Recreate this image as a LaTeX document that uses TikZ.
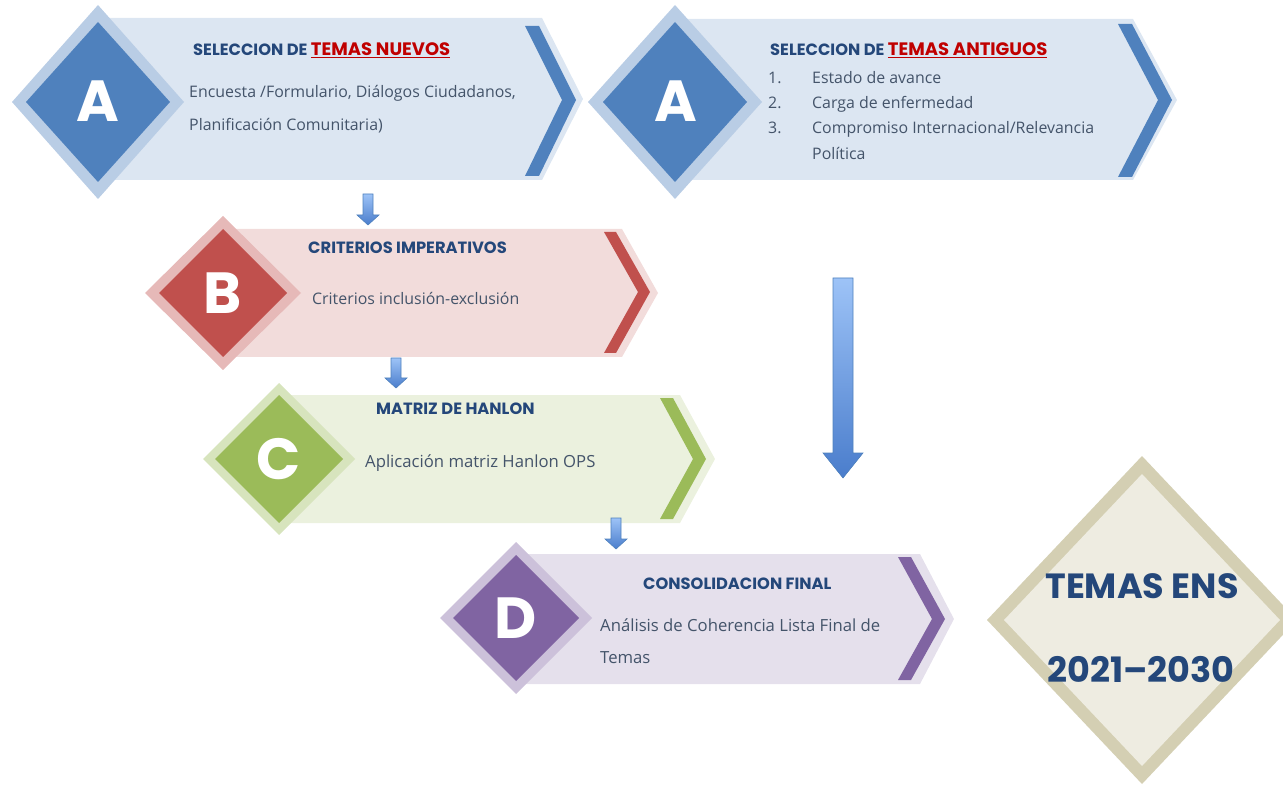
\documentclass[tikz,border=0pt]{standalone}
\usepackage{fontspec}
\setmainfont{Open Sans}
\newfontfamily\popfont{Poppins}
\usetikzlibrary{positioning}

\definecolor{blueD}{HTML}{4F81BD}
\definecolor{blueM}{HTML}{B9CDE5}
\definecolor{blueL}{HTML}{DCE6F2}
\definecolor{redD}{HTML}{C0504D}
\definecolor{redM}{HTML}{E6B9B8}
\definecolor{redL}{HTML}{F2DCDB}
\definecolor{greenD}{HTML}{9BBB59}
\definecolor{greenM}{HTML}{D7E4BD}
\definecolor{greenL}{HTML}{EBF1DE}
\definecolor{purpD}{HTML}{8064A2}
\definecolor{purpM}{HTML}{CCC1DA}
\definecolor{purpL}{HTML}{E5E0EC}
\definecolor{sandM}{HTML}{D4CFB3}
\definecolor{sandL}{HTML}{EEECE1}
\definecolor{titleblue}{HTML}{24477A}
\definecolor{bodyblue}{HTML}{44546A}
\definecolor{titlered}{HTML}{C00000}
\definecolor{arrowL}{HTML}{9DC3F7}
\definecolor{arrowD}{HTML}{4A7DCC}

\newcommand{\redpart}[1]{\textcolor{titlered}{\fontsize{18}{20}\selectfont\underline{#1}}}

\begin{document}
\begin{tikzpicture}[x=1pt,y=-1pt,
    titletext/.style={anchor=base west,inner sep=0pt,text=titleblue,font=\popfont\bfseries\fontsize{16.3}{19}\selectfont},
    bodytext/.style={anchor=base west,inner sep=0pt,text=bodyblue,font=\fontsize{15.9}{18}\selectfont},
    bodylarge/.style={bodytext,font=\fontsize{16.7}{19}\selectfont},
    letter/.style={inner sep=0pt,text=white,font=\popfont\bfseries\fontsize{58}{60}\selectfont},
    bigtext/.style={inner sep=0pt,text=titleblue,font=\popfont\bfseries\fontsize{35}{40}\selectfont},
    blockarrow/.style={top color=arrowL,bottom color=arrowD,draw=blueD,line width=0.6pt}]

    \useasboundingbox (0,0) rectangle (1283,786);

    % boxes
    \fill[blueL] (98,18) -- (542,18) -- (583,99) -- (542,180) -- (98,180) -- cycle;
    \fill[blueD] (525,26) -- (539,26) -- (576,100) -- (539,176) -- (525,176) -- (562,100) -- cycle;
    \fill[blueL] (676,19) -- (1133,19) -- (1177,100) -- (1133,180) -- (676,180) -- cycle;
    \fill[blueD] (1118,24) -- (1132,24) -- (1172,100) -- (1132,177) -- (1118,177) -- (1158,100) -- cycle;
    \fill[redL] (223,229) -- (622,229) -- (658,293) -- (622,357) -- (223,357) -- cycle;
    \fill[redD] (604,232) -- (616,232) -- (650,292) -- (616,353) -- (604,353) -- (638,292) -- cycle;
    \fill[greenL] (279,395) -- (680,395) -- (715,459) -- (680,523) -- (279,523) -- cycle;
    \fill[greenD] (660,398) -- (673,398) -- (706,459) -- (673,519) -- (660,519) -- (693,459) -- cycle;
    \fill[purpL] (516,554) -- (920,554) -- (954,619) -- (920,684) -- (516,684) -- cycle;
    \fill[purpD] (898,557) -- (911,557) -- (945,619) -- (911,680) -- (898,680) -- (932,619) -- cycle;

    % diamonds
    \fill[blueM] (12,102) -- (98,5) -- (184,102) -- (98,199) -- cycle;
    \fill[blueD] (26,102) -- (98,22) -- (170,102) -- (98,182) -- cycle;
    \fill[blueM] (588,102) -- (675,5) -- (762,102) -- (675,199) -- cycle;
    \fill[blueD] (603,102) -- (675,22) -- (747,102) -- (675,182) -- cycle;
    \fill[redM] (145,293) -- (223,216) -- (301,293) -- (223,370) -- cycle;
    \fill[redD] (159,293) -- (223,229) -- (287,293) -- (223,357) -- cycle;
    \fill[greenM] (203,459) -- (279,383) -- (355,459) -- (279,535) -- cycle;
    \fill[greenD] (215,459) -- (279,395) -- (343,459) -- (279,523) -- cycle;
    \fill[purpM] (440,618) -- (516,542) -- (592,618) -- (516,694) -- cycle;
    \fill[purpD] (453,618) -- (516,555) -- (579,618) -- (516,681) -- cycle;
    \fill[sandM] (987,620) -- (1142,456) -- (1297,620) -- (1142,784) -- cycle;
    \fill[sandL] (1004,620) -- (1142,474) -- (1280,620) -- (1142,766) -- cycle;

    \node[letter] (letA1) at (98,101) {A};
    \node[letter] (letA2) at (676,101) {A};
    \node[letter] (letB) at (223,293) {B};
    \node[letter] (letC) at (279,459) {C};
    \node[letter] (letD) at (516,618) {D};

    % texts
    \node[titletext] (titA1) at (193,56) {SELECCION DE \redpart{TEMAS NUEVOS}};
    \node[bodytext] (txtA1a) at (189,98) {Encuesta /Formulario, Diálogos Ciudadanos,};
    \node[bodytext] (txtA1b) at (189,131) {Planificación Comunitaria)};

    \node[titletext] (titA2) at (770,56) {SELECCION DE \redpart{TEMAS ANTIGUOS}};
    \node[bodytext] (numA2a) at (768,84) {1.};
    \node[bodytext] (numA2b) at (768,109) {2.};
    \node[bodytext] (numA2c) at (768,134) {3.};
    \node[bodytext] (txtA2a) at (812,84) {Estado de avance};
    \node[bodytext] (txtA2b) at (812,109) {Carga de enfermedad};
    \node[bodytext] (txtA2c) at (812,134) {Compromiso Internacional/Relevancia};
    \node[bodytext] (txtA2d) at (812,160) {Política};

    \node[titletext] (titB) at (308,254) {CRITERIOS IMPERATIVOS};
    \node[bodytext] (txtB) at (312,305) {Criterios inclusión-exclusión};

    \node[titletext] (titC) at (376,414) {MATRIZ DE HANLON};
    \node[bodylarge] (txtC) at (365,467) {Aplicación matriz Hanlon OPS};

    \node[titletext] (titD) at (643,589) {CONSOLIDACION FINAL};
    \node[bodylarge] (txtDa) at (600,631) {Análisis de Coherencia Lista Final de};
    \node[bodylarge] (txtDb) at (600,663) {Temas};

    \node[bigtext] (ens) at (1142,586) {TEMAS ENS};
    \node[bigtext] (years) at (1141,670) {2021–2030};

    % block arrows
    \shadedraw[blockarrow] (363,194) -- ++(10,0) -- ++(0,21) -- ++(6,0) -- ++(-11,10) -- ++(-11,-10) -- ++(6,0) -- cycle;
    \shadedraw[blockarrow] (391,358) -- ++(10,0) -- ++(0,20) -- ++(6,0) -- ++(-11,10) -- ++(-11,-10) -- ++(6,0) -- cycle;
    \shadedraw[blockarrow] (611,518) -- ++(10,0) -- ++(0,21) -- ++(6,0) -- ++(-11,10) -- ++(-11,-10) -- ++(6,0) -- cycle;
    \shadedraw[blockarrow] (833,278) -- ++(20,0) -- ++(0,175) -- ++(10,0) -- ++(-20,25) -- ++(-20,-25) -- ++(10,0) -- cycle;
\end{tikzpicture}
\end{document}
